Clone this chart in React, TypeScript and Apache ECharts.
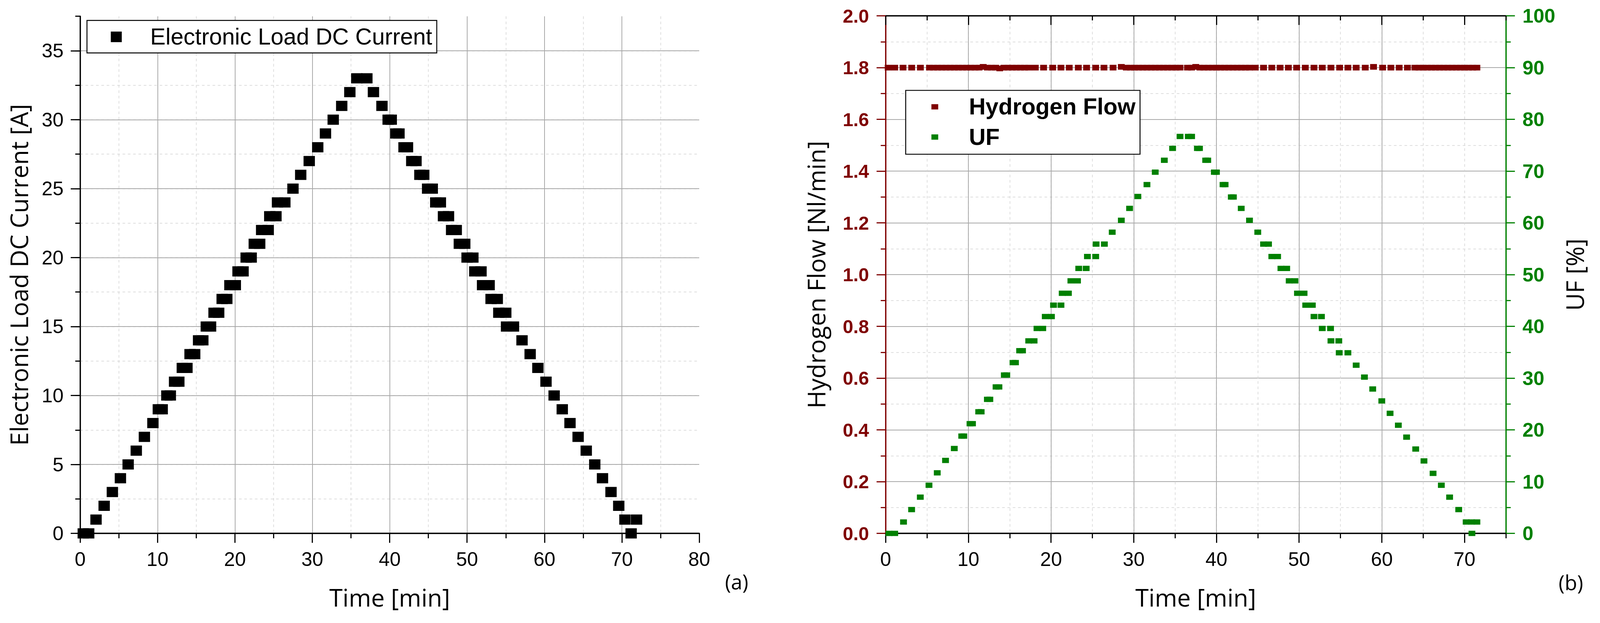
import { useEffect, useRef } from 'react';
import * as echarts from 'echarts';

// (a) electronic load current steps
const loadTime = [
  0.4, 1.1, 2.05, 3.1, 4.16, 5.2, 6.2, 7.25, 8.3, 9.4,
  10.1, 10.6, 11.2, 11.65, 12.2, 12.75, 13.2, 13.8, 14.2, 14.8,
  15.3, 15.85, 16.3, 16.85, 17.3, 17.9, 18.35, 18.95, 19.35, 20.05,
  20.4, 21.05, 21.45, 22.1, 22.5, 23.2, 23.45, 24.3, 24.5, 25.3,
  25.5, 26.45, 27.5, 28.5, 29.6, 30.7, 31.7, 32.7, 33.8, 34.85,
  35.75, 37.05, 37.9, 39.0, 39.8, 40.2, 40.8, 41.2, 41.85, 42.3,
  42.85, 43.4, 43.9, 44.4, 44.9, 45.5, 45.95, 46.55, 46.95, 47.6,
  48.0, 48.6, 49.0, 49.7, 50.0, 50.75, 51.0, 51.8, 52.0, 52.85,
  53.1, 53.9, 54.1, 55.0, 55.1, 56.0, 57.1, 58.15, 59.15, 60.2,
  61.25, 62.3, 63.3, 64.35, 65.4, 66.5, 67.5, 68.6, 69.6, 70.4,
  71.9, 71.2,
];
const loadCurrent = [
  0, 0, 1, 2, 3, 4, 5, 6, 7, 8,
  9, 9, 10, 10, 11, 11, 12, 12, 13, 13,
  14, 14, 15, 15, 16, 16, 17, 17, 18, 18,
  19, 19, 20, 20, 21, 21, 22, 22, 23, 23,
  24, 24, 25, 26, 27, 28, 29, 30, 31, 32,
  33, 33, 32, 31, 30, 30, 29, 29, 28, 28,
  27, 27, 26, 26, 25, 25, 24, 24, 23, 23,
  22, 22, 21, 21, 20, 20, 19, 19, 18, 18,
  17, 17, 16, 16, 15, 15, 14, 13, 12, 11,
  10, 9, 8, 7, 6, 5, 4, 3, 2, 1,
  1, 0,
];

// (b) hydrogen flow, left axis
const h2Time = [
  0.3, 1.1, 2.1, 3.15, 4.2, 5.3, 5.8, 6.3, 6.8, 7.3,
  7.8, 8.3, 8.8, 9.3, 9.8, 10.3, 10.8, 11.3, 11.8, 12.3,
  12.8, 13.3, 13.8, 14.3, 14.8, 15.3, 15.8, 16.3, 16.8, 17.3,
  18.1, 19.1, 20.2, 21.2, 22.2, 23.3, 24.3, 25.4, 26.4, 27.5,
  28.5, 29.1, 29.6, 30.1, 30.6, 31.1, 31.6, 32.1, 32.6, 33.1,
  33.6, 34.1, 34.6, 35.1, 35.6, 36.5, 37.0, 37.5, 38.0, 38.5,
  39.0, 39.5, 40.0, 40.5, 41.0, 41.5, 42.0, 42.5, 43.0, 43.5,
  44.0, 44.7, 45.7, 46.7, 47.7, 48.7, 49.7, 50.75, 51.8, 52.8,
  53.85, 54.9, 55.9, 56.9, 58.0, 59.0, 60.1, 61.1, 62.1, 63.1,
  64.0, 64.5, 65.0, 65.5, 66.0, 66.5, 67.0, 67.5, 68.0, 68.5,
  69.0, 69.5, 70.0, 70.5, 71.0, 71.5,
];
const h2Flow = [
  1.8, 1.8, 1.8, 1.8, 1.8, 1.8, 1.8, 1.8, 1.8, 1.8,
  1.8, 1.8, 1.8, 1.8, 1.8, 1.8, 1.8, 1.8, 1.803, 1.8,
  1.8, 1.8, 1.797, 1.8, 1.8, 1.8, 1.8, 1.8, 1.8, 1.8,
  1.8, 1.8, 1.8, 1.8, 1.8, 1.8, 1.8, 1.8, 1.8, 1.8,
  1.803, 1.8, 1.8, 1.8, 1.8, 1.8, 1.8, 1.8, 1.8, 1.8,
  1.8, 1.8, 1.8, 1.8, 1.8, 1.8, 1.8, 1.803, 1.8, 1.8,
  1.8, 1.8, 1.8, 1.8, 1.8, 1.8, 1.8, 1.8, 1.8, 1.8,
  1.8, 1.8, 1.8, 1.8, 1.8, 1.8, 1.8, 1.8, 1.8, 1.8,
  1.8, 1.8, 1.8, 1.8, 1.8, 1.803, 1.8, 1.8, 1.8, 1.8,
  1.8, 1.8, 1.8, 1.8, 1.8, 1.8, 1.8, 1.8, 1.8, 1.8,
  1.8, 1.8, 1.8, 1.8, 1.8, 1.8,
];

// (b) fuel utilisation, right axis
const ufTime = [
  0.4, 1.1, 2.16, 3.14, 4.19, 5.24, 6.24, 7.24, 8.3, 9.2,
  9.45, 10.2, 10.5, 11.25, 11.55, 12.3, 12.6, 13.35, 13.7, 14.35,
  14.65, 15.4, 15.7, 16.2, 16.55, 17.3, 17.95, 18.3, 19.0, 19.3,
  20.05, 20.3, 21.2, 21.35, 22.1, 22.4, 23.2, 23.35, 24.25, 24.4,
  25.4, 25.45, 26.45, 27.4, 28.5, 29.5, 30.5, 31.6, 32.6, 33.7,
  34.7, 35.6, 36.6, 37.0, 37.7, 37.95, 38.7, 38.95, 39.75, 40.0,
  40.8, 41.05, 41.8, 42.05, 43.0, 44.0, 45.0, 45.7, 46.3, 46.7,
  47.4, 47.8, 48.5, 48.8, 49.5, 49.8, 50.6, 50.8, 51.6, 51.8,
  52.7, 52.8, 53.8, 53.85, 54.8, 54.85, 55.9, 56.9, 57.9, 58.9,
  60.0, 61.0, 62.0, 63.0, 64.1, 65.1, 66.2, 67.2, 68.2, 69.3,
  70.2, 70.85, 71.5, 70.9,
];
const ufValue = [
  0, 0, 2.2, 4.6, 7.0, 9.3, 11.7, 14.1, 16.4, 18.8,
  18.8, 21.2, 21.2, 23.5, 23.5, 25.9, 25.9, 28.3, 28.3, 30.6,
  30.6, 33.0, 33.0, 35.3, 35.3, 37.2, 37.2, 39.6, 39.6, 41.9,
  41.9, 44.1, 44.1, 46.4, 46.4, 48.8, 48.8, 51.2, 51.2, 53.5,
  53.5, 55.9, 55.9, 58.2, 60.5, 62.8, 65.1, 67.4, 69.8, 72.1,
  74.4, 76.7, 76.7, 76.7, 74.4, 74.4, 72.1, 72.1, 69.8, 69.8,
  67.4, 67.4, 65.0, 65.0, 62.8, 60.5, 58.2, 55.9, 55.9, 53.5,
  53.5, 51.2, 51.2, 48.8, 48.8, 46.4, 46.4, 44.1, 44.1, 41.9,
  41.9, 39.6, 39.6, 37.2, 37.2, 34.9, 34.9, 32.5, 30.2, 27.9,
  25.6, 23.2, 20.9, 18.6, 16.3, 14.0, 11.6, 9.3, 7.0, 4.6,
  2.2, 2.2, 2.2, 0,
];

const majorTimeTicks = [0, 10, 20, 30, 40, 50, 60, 70];

const ARIAL = '"Liberation Sans", Arial, sans-serif';
const SANS = '"Open Sans", "Noto Sans", sans-serif';
const RED = '#7f0000';
const GREEN = '#008000';
const GRID_SOLID = '#a8a8a8';
const GRID_DASH = '#d2d2d2';

// layout below is measured on a 4231 px wide page
const BASE_W = 4231;

const pairs = (xs: number[], ys: number[]) => xs.map((x, i) => [x, ys[i]]);

export default function App() {
  const chartRef = useRef<HTMLDivElement>(null);

  useEffect(() => {
    if (!chartRef.current) return;
    document.body.style.margin = '0';
    document.body.style.overflow = 'hidden';
    const el = chartRef.current;
    const chart = echarts.init(el, null, { renderer: 'svg' });

    const k = el.clientWidth / BASE_W;
    const p = (v: number) => v * k;

    const nameStyle = { fontFamily: SANS, fontSize: p(64), color: '#000' };
    const solidSplit = {
      show: true,
      showMinLine: false,
      showMaxLine: false,
      lineStyle: { color: GRID_SOLID, width: p(2) },
    };
    const dashSplit = {
      show: true,
      showMinLine: false,
      showMaxLine: false,
      lineStyle: { color: GRID_DASH, width: p(1.5), type: [p(7), p(7)] },
    };
    const blackLine = { show: true, onZero: false, lineStyle: { color: '#000', width: p(3.5) } };
    const noLine = { show: false, onZero: false };
    const tickStyle = (color: string) => ({ color, width: p(3) });

    const option: any = {
      animation: false,
      backgroundColor: '#fff',
      grid: [
        { left: p(212), right: p(2382), top: p(43), bottom: p(237), outerBoundsMode: 'none' },
        { left: p(2342), right: p(249), top: p(42), bottom: p(237), outerBoundsMode: 'none' },
      ],
      xAxis: [
        {
          type: 'value', gridIndex: 0, position: 'bottom', min: 0, max: 80, interval: 10,
          name: 'Time [min]', nameLocation: 'middle', nameGap: p(137), nameTextStyle: nameStyle,
          axisLine: blackLine,
          axisTick: { show: true, length: p(25), lineStyle: tickStyle('#000') },
          minorTick: { show: true, splitNumber: 2, length: p(13), lineStyle: tickStyle('#000') },
          axisLabel: { margin: p(42), fontFamily: ARIAL, fontSize: p(52), color: '#000' },
          splitLine: solidSplit,
          minorSplitLine: dashSplit,
        },
        {
          type: 'value', gridIndex: 1, position: 'bottom', min: 0, max: 75, interval: 5,
          axisLine: blackLine,
          axisTick: { show: true, length: p(13), lineStyle: tickStyle('#000') },
          axisLabel: { show: false },
          splitLine: dashSplit,
        },
        {
          type: 'value', gridIndex: 1, position: 'bottom', min: 0, max: 75, interval: 10,
          name: 'Time [min]', nameLocation: 'middle', nameGap: p(137), nameTextStyle: nameStyle,
          axisLine: noLine,
          axisTick: { show: true, length: p(25), customValues: majorTimeTicks, lineStyle: tickStyle('#000') },
          axisLabel: {
            margin: p(42), fontFamily: ARIAL, fontSize: p(52), color: '#000',
            customValues: majorTimeTicks,
          },
          splitLine: solidSplit,
        },
        {
          type: 'value', gridIndex: 1, position: 'top', min: 0, max: 75, interval: 5,
          axisLine: blackLine,
          axisTick: { show: true, inside: true, length: p(12), lineStyle: tickStyle('#000') },
          axisLabel: { show: false },
          splitLine: { show: false },
        },
        {
          type: 'value', gridIndex: 1, position: 'top', min: 0, max: 75, interval: 10,
          axisLine: noLine,
          axisTick: { show: true, inside: true, length: p(24), customValues: majorTimeTicks, lineStyle: tickStyle('#000') },
          axisLabel: { show: false },
          splitLine: { show: false },
        },
      ],
      yAxis: [
        {
          type: 'value', gridIndex: 0, position: 'left', min: 0, max: 37.5, interval: 2.5,
          axisLine: noLine,
          axisTick: { show: true, length: p(13), lineStyle: tickStyle('#000') },
          axisLabel: { show: false },
          splitLine: dashSplit,
        },
        {
          type: 'value', gridIndex: 0, position: 'left', min: 0, max: 37.5, interval: 5,
          name: 'Electronic Load DC Current [A]', nameLocation: 'middle', nameGap: p(130), nameTextStyle: nameStyle,
          axisLine: blackLine,
          axisTick: { show: true, length: p(25), lineStyle: tickStyle('#000') },
          axisLabel: { margin: p(44), fontFamily: ARIAL, fontSize: p(52), color: '#000', showMaxLabel: false },
          splitLine: solidSplit,
        },
        {
          type: 'value', gridIndex: 1, position: 'left', min: 0, max: 2, interval: 0.2,
          name: 'Hydrogen Flow [Nl/min]', nameLocation: 'middle', nameGap: p(152), nameTextStyle: nameStyle,
          axisLine: { show: true, onZero: false, lineStyle: { color: RED, width: p(3.5) } },
          axisTick: { show: true, length: p(24), lineStyle: tickStyle(RED) },
          minorTick: { show: true, splitNumber: 2, length: p(13), lineStyle: tickStyle(RED) },
          axisLabel: {
            margin: p(44), fontFamily: ARIAL, fontSize: p(50), fontWeight: 'bold', color: RED,
            formatter: (v: number) => v.toFixed(1),
          },
          splitLine: { show: true, showMinLine: false, lineStyle: { color: GRID_SOLID, width: p(2) } },
          minorSplitLine: dashSplit,
        },
        {
          type: 'value', gridIndex: 1, position: 'right', min: 0, max: 100, interval: 10,
          name: 'UF [%]', nameLocation: 'middle', nameGap: p(150), nameTextStyle: nameStyle,
          axisLine: { show: true, onZero: false, lineStyle: { color: GREEN, width: p(3.5) } },
          axisTick: { show: true, length: p(24), lineStyle: tickStyle(GREEN) },
          minorTick: { show: true, splitNumber: 2, length: p(13), lineStyle: tickStyle(GREEN) },
          axisLabel: { margin: p(44), fontFamily: ARIAL, fontSize: p(52), fontWeight: 'bold', color: GREEN },
          splitLine: { show: false },
        },
      ],
      legend: [
        {
          data: ['Electronic Load DC Current'],
          left: p(230), top: p(54),
          padding: [p(13), p(12), p(12), p(63)],
          borderColor: '#000', borderWidth: p(2.5), backgroundColor: '#fff',
          icon: 'rect', itemWidth: p(29), itemHeight: p(28),
          textStyle: {
            fontFamily: ARIAL, fontSize: p(61), color: '#000',
            lineHeight: p(60), padding: [0, 0, 0, p(70)],
          },
        },
        {
          data: ['Hydrogen Flow', 'UF'],
          orient: 'vertical',
          left: p(2395), top: p(239), itemGap: p(19),
          padding: [p(13), p(12), p(15), p(68)],
          borderColor: '#000', borderWidth: p(2.5), backgroundColor: '#fff',
          icon: 'rect', itemWidth: p(18), itemHeight: p(14),
          textStyle: {
            fontFamily: ARIAL, fontSize: p(61), fontWeight: 'bold', color: '#000',
            lineHeight: p(60), padding: [0, 0, 0, p(76)],
          },
        },
      ],
      series: [
        {
          type: 'scatter', name: 'Electronic Load DC Current',
          xAxisIndex: 0, yAxisIndex: 1,
          symbol: 'rect', symbolSize: [p(30), p(27)],
          itemStyle: { color: '#000', opacity: 1 },
          data: pairs(loadTime, loadCurrent),
        },
        {
          type: 'scatter', name: 'Hydrogen Flow',
          xAxisIndex: 2, yAxisIndex: 2,
          symbol: 'rect', symbolSize: [p(18), p(15)],
          itemStyle: { color: RED, opacity: 1 },
          data: pairs(h2Time, h2Flow),
        },
        {
          type: 'scatter', name: 'UF',
          xAxisIndex: 2, yAxisIndex: 3,
          symbol: 'rect', symbolSize: [p(18), p(14)],
          itemStyle: { color: GREEN, opacity: 1 },
          data: pairs(ufTime, ufValue),
        },
      ],
      graphic: [
        {
          type: 'text', x: p(1948), y: p(1538),
          style: { text: '(a)', fontFamily: SANS, fontSize: p(54), fill: '#000', align: 'center', verticalAlign: 'middle' },
        },
        {
          type: 'text', x: p(4154), y: p(1540),
          style: { text: '(b)', fontFamily: SANS, fontSize: p(54), fill: '#000', align: 'center', verticalAlign: 'middle' },
        },
      ],
    };

    chart.setOption(option);

    const onResize = () => chart.resize();
    window.addEventListener('resize', onResize);

    return () => {
      window.removeEventListener('resize', onResize);
      chart.dispose();
    };
  }, []);

  return <div ref={chartRef} style={{ width: '100vw', height: '100vh' }} />;
}
